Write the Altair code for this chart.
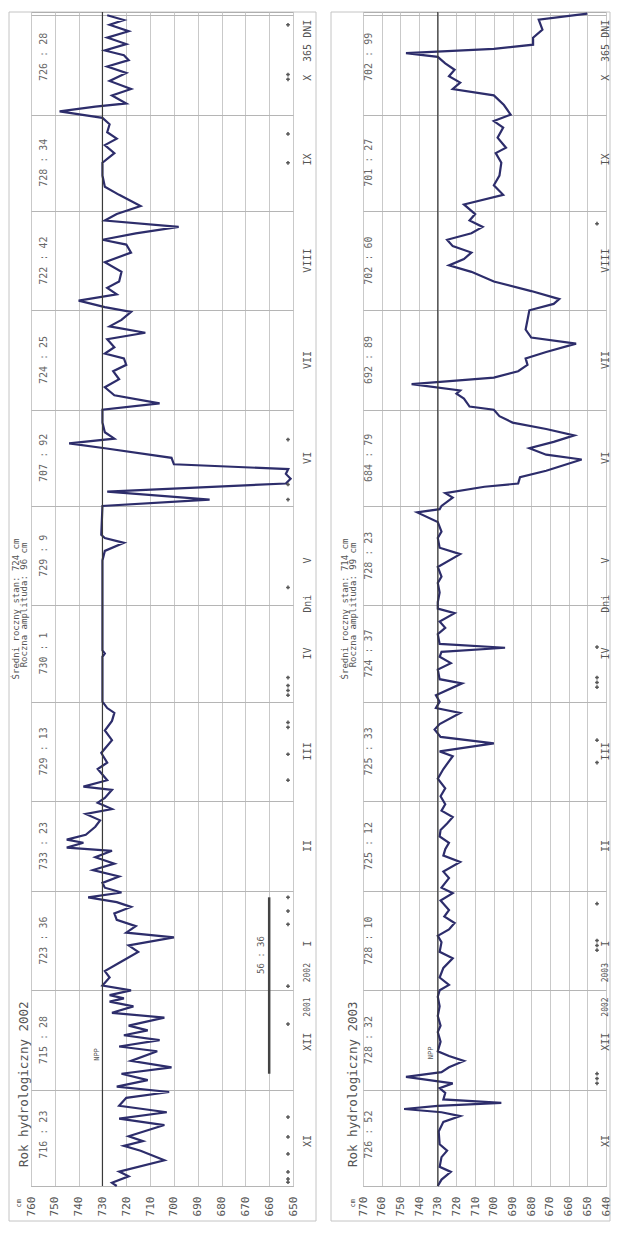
import altair as alt
import pandas as pd

MONO = "DejaVu Sans Mono"
LINE = "#2d2d6b"

months = ["XI", "XII", "I", "II", "III", "IV", "V", "VI", "VII", "VIII", "IX", "X"]
month_bounds = [0, 30, 61, 92, 120, 151, 181, 212, 242, 273, 304, 334, 365]
label_days = [14, 45, 75.5, 106, 135.5, 166, 195, 227, 257.5, 288.5, 320, 345.5]
stats_days = [16, 45.5, 76.5, 106, 135.5, 166, 196.5, 227, 257.5, 288.5, 319, 352]

stats_2002 = ["716 : 23", "715 : 28", "723 : 36", "733 : 23", "729 : 13", "730 : 1",
              "729 : 9", "707 : 92", "724 : 25", "722 : 42", "728 : 34", "726 : 28"]
stats_2003 = ["726 : 52", "728 : 32", "728 : 10", "725 : 12", "725 : 33", "724 : 37",
              "728 : 23", "684 : 79", "692 : 89", "702 : 60", "701 : 27", "702 : 99"]

days_2002 = [0, 1, 3, 4.5, 8, 11, 12.5, 14, 15.5, 19, 21, 23, 25, 27.5, 29.3,
             31, 33, 35, 37, 39, 42, 43.5, 45.5, 47, 48.5, 50, 52.5, 54, 56, 57.5, 58.5, 59.5, 61,
             62.5, 65, 67, 70, 73, 75, 77.5, 79, 81, 83, 85, 87, 88.5, 90, 91.5,
             93, 94.5, 96.5, 98.5, 100.5, 102.5, 104.5, 105.5, 107, 108, 109.5, 112, 114, 116, 117.5, 119.5,
             121, 123.5, 124.5, 126.5, 130, 132, 135, 139, 142, 145, 147.5, 149, 151,
             160, 165, 166, 167, 181,
             195, 198, 200.5, 202, 203, 212,
             214, 216.5, 219, 220.5, 222, 223.5, 225, 227, 230, 231.5, 233, 235, 238, 242,
             244, 246.5, 249, 251.5, 254, 256, 258, 259.5, 261.5, 264, 266, 268, 270, 272.5, 274,
             276, 278, 280, 282, 285, 288, 291, 293.5, 295, 297, 299, 301, 303, 305.5,
             309, 311.5, 315, 319, 322, 324.5, 326.5, 328.5, 331, 333, 335,
             336.5, 337.5, 340, 342, 344.5, 347, 349, 351, 352.5, 354, 356, 358, 360, 362, 363.5, 365]
level_2002 = [724, 726, 719, 723, 704, 714, 721, 713, 719, 704, 723, 703, 723, 720, 702,
              724, 711, 722, 701, 718, 707, 723, 706, 721, 711, 719, 704, 726, 717, 727, 721, 727, 718,
              730, 727, 729, 722, 715, 719, 700, 720, 716, 724, 725, 718, 724, 736, 722,
              729, 730, 723, 734, 725, 733, 726, 745, 738, 745, 737, 733, 731, 737, 726, 732,
              729, 726, 738, 728, 732, 728, 730.5, 726, 729, 726, 725, 728, 730,
              730, 730, 729, 730, 730,
              730, 729, 721, 729, 730.5, 730,
              685, 728, 653, 651, 653, 652, 700, 701, 729, 744, 725, 729, 730, 730,
              706, 725, 729, 723, 725.5, 720, 721, 729, 725, 728, 712, 727, 722, 718, 729,
              740, 724, 728, 723, 722, 729, 718, 720, 730, 716, 698, 729, 724, 714,
              723, 729, 730, 730, 725, 729, 724, 728, 727, 730, 748,
              733, 720, 726, 718, 727, 720, 728, 719, 721, 729, 720, 728, 719, 727, 721, 728]

days_2003 = [0, 2, 4.4, 6, 9, 11, 13, 17, 20, 21.8, 23, 24, 25, 25.9, 27, 29, 30.5,
             32, 34, 35.5, 37, 39, 40.5, 42, 45, 48, 50, 53, 56, 59, 61,
             62.7, 65, 68, 71, 73, 76, 78, 80, 82, 84, 86, 89, 91.3,
             93, 96, 98, 101, 103, 105, 107, 109, 111, 113, 115, 117, 119,
             121.5, 124, 127, 130, 134, 135.5, 138, 140, 142.3, 144, 147.5, 149, 151,
             153, 156.7, 158, 161, 163, 165, 166.5, 167.8, 169, 172, 174, 176, 178.6, 180,
             182, 185, 188, 190, 193, 197, 199, 202, 204, 207, 210, 211, 212,
             214.6, 216, 218, 219, 221, 223, 226.5, 228, 230, 232, 234, 236, 238, 240, 242,
             243, 245.5, 247, 248, 250, 252, 254, 256, 258, 260, 262.6, 264.5, 267, 270, 273,
             275, 276.5, 279, 282, 285, 287, 289, 291, 293, 295, 297, 299, 301, 303,
             304, 306, 309, 312, 315, 319, 322, 323.7, 326.8, 330, 332, 334,
             337, 340, 342, 344, 346, 348, 350, 352, 353.2, 354.5, 355.1, 355.8, 358, 360.5, 363.6, 365.5]
level_2003 = [730, 728, 723, 729, 728, 725, 729, 729.5, 727, 718, 728, 748, 730, 696, 727, 726, 729,
              722, 747, 728, 724, 716, 724, 730, 728.5, 730, 728.5, 730, 729, 730, 729,
              724, 729, 727, 722, 729, 728, 730, 724, 721, 726.5, 724, 728.5, 722,
              728, 724, 727, 718, 727, 726, 724, 729, 728.5, 725, 722, 728, 726,
              728.5, 726, 730, 727, 722, 729, 700, 728.5, 731.7, 729, 718, 731, 729,
              731, 717, 729, 730, 723, 729, 728, 694, 729, 730, 726, 729, 721, 730,
              730, 729, 730, 728, 730, 718, 729, 730, 728, 730, 741, 729, 728,
              722, 726, 705, 687, 686, 672, 653, 672, 681, 668, 657, 672, 690, 697, 700,
              713, 716, 720, 718, 744, 700, 687, 682, 683, 672, 656, 680, 683, 682, 681,
              668, 665, 680, 700, 712, 724, 716, 712, 722, 725, 712, 706, 713, 710,
              712, 716, 695, 700, 697, 696, 699, 693.5, 698, 695, 700, 691,
              694.6, 700, 722, 718, 724, 721, 726, 730, 747, 700, 690, 679, 679, 674, 676, 650]

marks_2002 = [1.2, 2.2, 4.4, 10, 15.3, 21.5, 50.5, 62.3, 81.6, 85.7, 90, 126.5, 134.6,
              143, 144.5, 153, 154.5, 156, 158.5, 186.6, 214, 218.7, 232.7, 319, 328,
              345, 346.5, 362]
marks_2003 = [32, 33.5, 35, 73.5, 75, 76.5, 88, 132, 139, 155.5, 157, 158.5, 168, 300]

bar_2002_days = [35, 90]
bar_2002_level = 660


def panel(days, levels, lo, hi, stats, title, mean_txt, amp_txt, mark_days,
          years, W, H, p):
    df = pd.DataFrame({"day": days, "level": levels})
    xs = alt.Scale(domain=[lo, hi], reverse=True, nice=False, zero=False)
    ys = alt.Scale(domain=[0, 366], nice=False, zero=False)
    xaxis = alt.Axis(values=list(range(lo, hi + 1, 10)), labelAngle=270, labelFont=MONO,
                     labelFontSize=11, labelColor="#555", grid=True, gridColor="#c9c9c9",
                     ticks=False, domain=False, title=None, labelPadding=10,
                     labelFlush=False, labelOverlap=False)
    yaxis = alt.Axis(values=month_bounds, grid=True, gridColor="#b5b5b5", labels=False,
                     ticks=False, domain=False, title=None)

    def X(field):
        return alt.X(field, scale=xs, axis=xaxis)

    def Y(field):
        return alt.Y(field, scale=ys, axis=yaxis)

    one = pd.DataFrame({"a": [0]})
    box = alt.Chart(one).mark_rect(fillOpacity=0, stroke="#c4c4c4", strokeWidth=1).encode(
        x=alt.value(p["box_x1"]), x2=alt.value(p["box_x2"]),
        y=alt.value(0), y2=alt.value(p["box_y2"]))

    line = alt.Chart(df).mark_line(color=LINE, strokeWidth=2.2).encode(
        x=X("level:Q"), y=Y("day:Q"), order="day:Q")

    ref = alt.Chart(pd.DataFrame({"level": [730]})).mark_rule(
        color="#3a3a3a", strokeWidth=1.2).encode(x=X("level:Q"))

    sdf = pd.DataFrame({"day": stats_days, "t": stats})
    stxt = alt.Chart(sdf).mark_text(angle=270, font=MONO, fontSize=10, color="#666").encode(
        y=Y("day:Q"), x=alt.value(p["stats_x"]), text="t:N")

    mdf = pd.DataFrame({"day": label_days, "t": months})
    mtxt = alt.Chart(mdf).mark_text(angle=270, font=MONO, fontSize=10, color="#555").encode(
        y=Y("day:Q"), x=alt.value(p["month_x"]), text="t:N")

    extra = pd.DataFrame({"day": [55.8, 66.5, 357, 181.5],
                          "t": [years[0], years[1], "365 DNI", "Dni"],
                          "fs": [8, 8, 10, 10]})
    etxt = alt.Chart(extra).mark_text(angle=270, font=MONO, color="#555").encode(
        y=Y("day:Q"), x=alt.value(p["month_x"]), text="t:N",
        size=alt.Size("fs:Q", scale=None, legend=None))

    mk = alt.Chart(pd.DataFrame({"day": mark_days})).mark_point(
        shape="cross", size=14, filled=True, color="#444", opacity=0.9).encode(
        y=Y("day:Q"), x=alt.value(p["mark_x"]))

    npp = alt.Chart(pd.DataFrame({"day": [p["npp_day"]], "level": [p["npp_level"]], "t": ["NPP"]})).mark_text(
        angle=270, font=MONO, fontSize=7, color="#555").encode(
        y=Y("day:Q"), x=X("level:Q"), text="t:N")

    titles = [
        (title, p["title_x"], p["title_y"], 12.5, "left"),
        (mean_txt, p["sum1_x"], p["sum_y"], 9, "center"),
        (amp_txt, p["sum2_x"], p["sum_y"] - 4, 9, "center"),
        ("cm", p["cm_x"], H + 13, 7, "right"),
    ]
    tl = []
    for t, x, y, fs, al in titles:
        tl.append(alt.Chart(pd.DataFrame({"t": [t]})).mark_text(
            angle=270, font=MONO, fontSize=fs, color="#555",
            align=al, baseline="middle").encode(
            x=alt.value(x), y=alt.value(y), text="t:N"))

    layers = [box, line, ref, stxt, mtxt, etxt, mk, npp] + tl
    if p.get("bar"):
        bdf = pd.DataFrame({"day": [bar_2002_days[0]], "day2": [bar_2002_days[1]],
                            "level": [bar_2002_level]})
        bar = alt.Chart(bdf).mark_rule(color="#444", strokeWidth=2.5).encode(
            x=X("level:Q"), y=Y("day:Q"), y2="day2:Q")
        btxt = alt.Chart(pd.DataFrame({"day": [72], "level": [663.3], "t": ["56 : 36"]})).mark_text(
            angle=270, font=MONO, fontSize=9, color="#555").encode(
            x=X("level:Q"), y=Y("day:Q"), text="t:N")
        layers += [bar, btxt]
    return alt.layer(*layers).properties(width=W, height=H)


H = 1174
BOXB = 1209
left = panel(days_2002, level_2002, 650, 760, stats_2002, "Rok hydrologiczny 2002",
             "Średni roczny stan: 724 cm", "Roczna amplituda: 96 cm", marks_2002,
             ["2001", "2002"], 262, H,
             dict(box_x1=-22, box_x2=285, box_y2=BOXB, stats_x=13, month_x=277, mark_x=257,
                  title_x=-7, title_y=1155, sum1_x=-15, sum2_x=-7, sum_y=597, cm_x=-12,
                  npp_day=41, npp_level=732.5, bar=True))
right = panel(days_2003, level_2003, 640, 770, stats_2003, "Rok hydrologiczny 2003",
              "Średni roczny stan: 714 cm", "Roczna amplituda: 99 cm", marks_2003,
              ["2002", "2003"], 243, H,
              dict(box_x1=-32, box_x2=247, box_y2=BOXB, stats_x=6, month_x=243, mark_x=234,
                   title_x=-10, title_y=1155, sum1_x=-18, sum2_x=-10, sum_y=597, cm_x=-10,
                   npp_day=41.5, npp_level=733.5))

chart = alt.hconcat(left, right, spacing=70).properties(
    padding=0, bounds="flush", background="white"
).configure_view(stroke="#9a9a9a", strokeWidth=1)

chart.save("out.html", embed_options={"renderer": "svg", "actions": False})
